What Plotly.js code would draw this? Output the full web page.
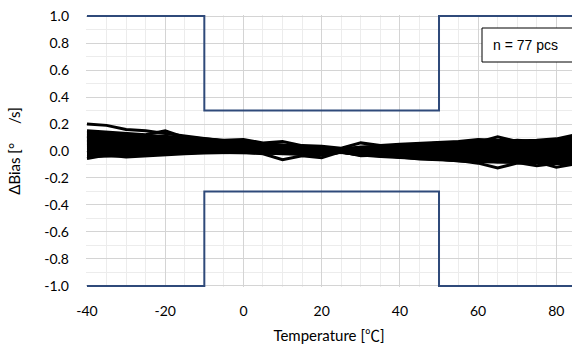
<!DOCTYPE html>
<html>
<head>
<meta charset="utf-8">
<script src="https://cdn.plot.ly/plotly-3.0.1.min.js"></script>
<style>html,body{margin:0;padding:0;background:#fff;}#chart{width:572px;height:345px;}</style>
</head>
<body>
<div id="chart"></div>
<script>
// Temperature points (°C) shared by the sample curves
const temps = [-40,-35,-30,-25,-20,-15,-10,-5,0,5,10,15,20,25,30,35,40,45,50,55,60,65,70,75,80,85];

// ΔBias (°/s) of representative samples (band of n = 77 pcs)
const s01 = [0.20,0.19,0.16,0.15,0.13,0.11,0.09,0.075,0.06,0.05,0.04,0.03,0.02,0.01,0.015,0.02,0.03,0.035,0.045,0.05,0.06,0.055,0.065,0.07,0.08,0.09];
const s02 = [0.15,0.14,0.13,0.12,0.15,0.10,0.09,0.08,0.085,0.06,0.07,0.04,0.035,0.02,0.06,0.04,0.05,0.055,0.065,0.07,0.085,0.08,0.075,0.08,0.09,0.12];
const s03 = [0.13,0.125,0.115,0.105,0.10,0.09,0.08,0.07,0.06,0.05,0.045,0.035,0.025,0.015,0.025,0.03,0.04,0.05,0.055,0.06,0.065,0.105,0.07,0.065,0.075,0.11];
const s04 = [0.115,0.11,0.10,0.095,0.09,0.08,0.075,0.065,0.055,0.045,0.04,0.03,0.02,0.01,0.015,0.02,0.03,0.035,0.04,0.045,0.05,0.045,0.055,0.06,0.06,0.07];
const s05 = [0.10,0.095,0.09,0.085,0.08,0.07,0.065,0.055,0.05,0.04,0.035,0.025,0.015,0.005,0.01,0.015,0.02,0.025,0.03,0.035,0.035,0.04,0.04,0.045,0.05,0.05];
const s06 = [0.085,0.08,0.075,0.07,0.065,0.06,0.055,0.045,0.04,0.035,0.025,0.02,0.01,0.0,0.005,0.01,0.01,0.015,0.02,0.02,0.025,0.02,0.03,0.03,0.035,0.03];
const s07 = [0.07,0.065,0.06,0.055,0.05,0.05,0.045,0.04,0.035,0.03,0.02,0.015,0.005,0.0,0.0,0.0,0.005,0.005,0.01,0.01,0.01,0.005,0.01,0.015,0.01,0.01];
const s08 = [0.055,0.05,0.045,0.045,0.04,0.04,0.035,0.03,0.025,0.02,0.015,0.01,0.0,-0.005,-0.005,-0.005,-0.005,-0.01,-0.005,-0.01,-0.01,-0.01,-0.005,-0.01,-0.01,-0.015];
const s09 = [0.04,0.035,0.03,0.03,0.03,0.025,0.025,0.02,0.02,0.015,0.01,0.005,0.0,-0.005,-0.01,-0.01,-0.015,-0.02,-0.02,-0.025,-0.025,-0.03,-0.025,-0.03,-0.03,-0.035];
const s10 = [0.025,0.02,0.02,0.015,0.015,0.015,0.01,0.01,0.01,0.005,0.005,0.0,-0.005,-0.01,-0.015,-0.02,-0.025,-0.03,-0.035,-0.04,-0.04,-0.045,-0.045,-0.05,-0.05,-0.055];
const s11 = [0.005,0.005,0.0,0.0,0.005,0.0,0.0,0.0,-0.005,-0.005,-0.01,-0.01,-0.015,-0.01,-0.02,-0.025,-0.035,-0.04,-0.045,-0.05,-0.055,-0.06,-0.06,-0.065,-0.07,-0.075];
const s12 = [-0.02,-0.015,-0.015,-0.01,-0.01,-0.005,-0.005,-0.005,-0.01,-0.01,-0.015,-0.02,-0.025,-0.005,-0.025,-0.035,-0.045,-0.05,-0.055,-0.065,-0.07,-0.08,-0.075,-0.08,-0.085,-0.09];
const s13 = [-0.04,-0.04,-0.035,-0.03,-0.02,-0.015,-0.01,-0.01,-0.015,-0.015,-0.02,-0.025,-0.03,-0.01,-0.03,-0.04,-0.05,-0.055,-0.06,-0.075,-0.08,-0.085,-0.085,-0.11,-0.09,-0.10];
const s14 = [-0.055,-0.03,-0.045,-0.035,-0.025,-0.02,-0.015,-0.01,-0.01,-0.02,-0.065,-0.035,-0.05,-0.005,-0.035,-0.03,-0.045,-0.06,-0.065,-0.07,-0.09,-0.125,-0.09,-0.08,-0.12,-0.095];
const s15 = [0.14,0.135,0.12,0.115,0.11,0.095,0.085,0.075,0.065,0.055,0.05,0.04,0.03,0.015,0.03,0.035,0.045,0.05,0.06,0.065,0.07,0.065,0.08,0.07,0.085,0.10];
const s16 = [0.12,0.12,0.11,0.10,0.095,0.085,0.08,0.07,0.06,0.05,0.04,0.03,0.02,0.01,0.02,0.025,0.035,0.04,0.05,0.055,0.06,0.06,0.06,0.07,0.07,0.08];
const s17 = [0.11,0.10,0.095,0.09,0.085,0.075,0.07,0.06,0.05,0.045,0.035,0.025,0.02,0.01,0.01,0.02,0.025,0.03,0.035,0.04,0.045,0.05,0.05,0.05,0.055,0.06];
const s18 = [0.09,0.09,0.08,0.075,0.07,0.065,0.06,0.05,0.045,0.04,0.03,0.02,0.01,0.005,0.01,0.01,0.015,0.02,0.025,0.03,0.03,0.03,0.035,0.04,0.04,0.04];
const s19 = [0.08,0.07,0.07,0.06,0.06,0.055,0.05,0.045,0.04,0.03,0.025,0.015,0.01,0.0,0.0,0.005,0.005,0.01,0.015,0.015,0.015,0.015,0.02,0.02,0.025,0.02];
const s20 = [0.06,0.06,0.055,0.05,0.045,0.045,0.04,0.035,0.03,0.025,0.02,0.01,0.005,0.0,-0.005,0.0,0.0,0.0,0.0,0.0,0.0,-0.005,0.0,0.0,0.0,0.0];
const s21 = [0.05,0.045,0.04,0.035,0.035,0.03,0.03,0.025,0.02,0.02,0.01,0.005,0.0,-0.005,-0.01,-0.005,-0.01,-0.015,-0.015,-0.015,-0.02,-0.02,-0.015,-0.02,-0.02,-0.025];
const s22 = [0.03,0.03,0.025,0.025,0.02,0.02,0.02,0.015,0.015,0.01,0.005,0.005,-0.005,-0.005,-0.01,-0.015,-0.02,-0.025,-0.03,-0.03,-0.035,-0.035,-0.035,-0.04,-0.04,-0.045];
const s23 = [0.015,0.01,0.01,0.01,0.01,0.005,0.005,0.005,0.0,0.0,0.0,-0.005,-0.01,-0.01,-0.015,-0.02,-0.03,-0.035,-0.04,-0.045,-0.05,-0.05,-0.055,-0.055,-0.06,-0.065];
const s24 = [-0.01,-0.005,-0.005,-0.005,0.0,-0.005,-0.005,-0.005,-0.005,-0.01,-0.01,-0.015,-0.02,-0.01,-0.02,-0.03,-0.04,-0.045,-0.05,-0.055,-0.06,-0.07,-0.07,-0.07,-0.075,-0.08];
const s25 = [-0.03,-0.03,-0.025,-0.02,-0.015,-0.01,-0.01,-0.005,-0.01,-0.015,-0.02,-0.02,-0.025,-0.01,-0.03,-0.035,-0.045,-0.05,-0.06,-0.07,-0.075,-0.08,-0.08,-0.085,-0.09,-0.095];
const samples = [s01,s02,s03,s04,s05,s06,s07,s08,s09,s10,s11,s12,s13,s14,s15,s16,s17,s18,s19,s20,s21,s22,s23,s24,s25];

// Spec limits
const limitTemps = [-40,-10,-10,50,50,85];
const upperLimit = [1.0,1.0,0.3,0.3,1.0,1.0];
const lowerLimit = [-1.0,-1.0,-0.3,-0.3,-1.0,-1.0];

// Axis ticks
const xTicks = [-40,-20,0,20,40,60,80];
const yTicks = [-1.0,-0.8,-0.6,-0.4,-0.2,0.0,0.2,0.4,0.6,0.8,1.0];
const yTickText = ['-1.0','-0.8','-0.6','-0.4','-0.2','0.0','0.2','0.4','0.6','0.8','1.0'];

const traces = samples.map((ys, i) => ({
  x: temps, y: ys, type: 'scatter', mode: 'lines',
  name: 'Sample ' + (i + 1), showlegend: false, hoverinfo: 'skip',
  line: {color: '#000000', width: 3}
}));
traces.push({x: limitTemps, y: upperLimit, type: 'scatter', mode: 'lines', name: 'Upper limit',
  showlegend: false, hoverinfo: 'skip', line: {color: '#2f4a7a', width: 2}});
traces.push({x: limitTemps, y: lowerLimit, type: 'scatter', mode: 'lines', name: 'Lower limit',
  showlegend: false, hoverinfo: 'skip', line: {color: '#2f4a7a', width: 2}});

const fam = 'Lato, "Noto Sans CJK JP", sans-serif';
const tickFont = {family: fam, size: 14, color: '#000000'};

// plot area: x 86..572, y 15..287 (px)
const px = v => (v - 86) / 486;
const py = v => 1 - (v - 15) / 272;

const layout = {
  width: 572, height: 345,
  margin: {l: 86, r: 0, t: 15, b: 58, pad: 0},
  paper_bgcolor: '#ffffff', plot_bgcolor: '#ffffff',
  showlegend: false,
  xaxis: {
    range: [-40.25, 84.0], tickvals: xTicks, ticktext: xTicks.map(String),
    showgrid: true, gridcolor: '#d4d4d4', gridwidth: 1,
    minor: {dtick: 5, tick0: 0, showgrid: true, gridcolor: '#ececec', gridwidth: 1},
    zeroline: false, showline: false, ticks: '', ticklabelstandoff: 14,
    tickfont: tickFont, automargin: false,
    title: {text: 'Temperature [℃]', font: {family: fam, size: 15, color: '#000000'}, standoff: 12}
  },
  yaxis: {
    range: [-1.008, 1.008], tickvals: yTicks, ticktext: yTickText,
    showgrid: true, gridcolor: '#d4d4d4', gridwidth: 1,
    minor: {dtick: 0.1, tick0: 0, showgrid: true, gridcolor: '#ececec', gridwidth: 1},
    zeroline: false, showline: false, ticks: '', ticklabelstandoff: 16,
    tickfont: tickFont, automargin: false,
    title: {text: 'ΔBias [°\u2003\u2002/s]', font: {family: fam, size: 15, color: '#000000'}, standoff: 20}
  },
  shapes: [{
    type: 'rect', xref: 'paper', yref: 'paper',
    x0: px(482), x1: px(600), y0: py(62), y1: py(28),
    fillcolor: '#ffffff', line: {color: '#000000', width: 1}, layer: 'above'
  }],
  annotations: [{
    xref: 'paper', yref: 'paper', x: px(491), y: py(45),
    xanchor: 'left', yanchor: 'middle', showarrow: false, align: 'left',
    text: 'n = 77 pcs',
    font: {family: '"Liberation Sans", Arial, sans-serif', size: 14, color: '#000000'}
  }]
};

Plotly.newPlot('chart', traces, layout, {displayModeBar: false, staticPlot: true});
</script>
</body>
</html>
